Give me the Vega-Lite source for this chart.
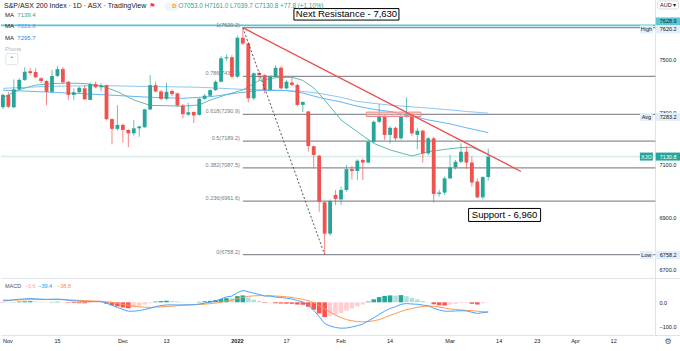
{
"$schema":"https://vega.github.io/schema/vega-lite/v6.json",
"padding":0,
"background":"white",
"spacing":0,
"config":{"view":{"stroke":null},"font":"Liberation Sans","text":{"font":"Liberation Sans"},"concat":{"spacing":0}},
"datasets":{
"days":[{"d":"2021-11-01"},{"d":"2021-11-02"},{"d":"2021-11-03"},{"d":"2021-11-04"},{"d":"2021-11-05"},{"d":"2021-11-08"},{"d":"2021-11-09"},{"d":"2021-11-10"},{"d":"2021-11-11"},{"d":"2021-11-12"},{"d":"2021-11-15"},{"d":"2021-11-16"},{"d":"2021-11-17"},{"d":"2021-11-18"},{"d":"2021-11-19"},{"d":"2021-11-22"},{"d":"2021-11-23"},{"d":"2021-11-24"},{"d":"2021-11-25"},{"d":"2021-11-26"},{"d":"2021-11-29"},{"d":"2021-11-30"},
{"d":"2021-12-01"},{"d":"2021-12-02"},{"d":"2021-12-03"},{"d":"2021-12-06"},{"d":"2021-12-07"},{"d":"2021-12-08"},{"d":"2021-12-09"},{"d":"2021-12-10"},{"d":"2021-12-13"},{"d":"2021-12-14"},{"d":"2021-12-15"},{"d":"2021-12-16"},{"d":"2021-12-17"},{"d":"2021-12-20"},{"d":"2021-12-21"},{"d":"2021-12-22"},{"d":"2021-12-23"},{"d":"2021-12-24"},{"d":"2021-12-29"},{"d":"2021-12-30"},{"d":"2021-12-31"},
{"d":"2022-01-04"},{"d":"2022-01-05"},{"d":"2022-01-06"},{"d":"2022-01-07"},{"d":"2022-01-10"},{"d":"2022-01-11"},{"d":"2022-01-12"},{"d":"2022-01-13"},{"d":"2022-01-14"},{"d":"2022-01-17"},{"d":"2022-01-18"},{"d":"2022-01-19"},{"d":"2022-01-20"},{"d":"2022-01-21"},{"d":"2022-01-24"},{"d":"2022-01-25"},{"d":"2022-01-27"},{"d":"2022-01-28"},{"d":"2022-01-31"},
{"d":"2022-02-01"},{"d":"2022-02-02"},{"d":"2022-02-03"},{"d":"2022-02-04"},{"d":"2022-02-07"},{"d":"2022-02-08"},{"d":"2022-02-09"},{"d":"2022-02-10"},{"d":"2022-02-11"},{"d":"2022-02-14"},{"d":"2022-02-15"},{"d":"2022-02-16"},{"d":"2022-02-17"},{"d":"2022-02-18"},{"d":"2022-02-21"},{"d":"2022-02-22"},{"d":"2022-02-23"},{"d":"2022-02-24"},{"d":"2022-02-25"},{"d":"2022-02-28"},
{"d":"2022-03-01"},{"d":"2022-03-02"},{"d":"2022-03-03"},{"d":"2022-03-04"},{"d":"2022-03-07"},{"d":"2022-03-08"},{"d":"2022-03-09"},{"d":"2022-03-10"},{"d":"2022-03-11"},{"d":"2022-03-14"},{"d":"2022-03-15"},{"d":"2022-03-16"},{"d":"2022-03-17"},{"d":"2022-03-18"},{"d":"2022-03-21"},{"d":"2022-03-22"},{"d":"2022-03-23"},{"d":"2022-03-24"},{"d":"2022-03-25"},{"d":"2022-03-28"},{"d":"2022-03-29"},{"d":"2022-03-30"},{"d":"2022-03-31"},
{"d":"2022-04-01"},{"d":"2022-04-04"},{"d":"2022-04-05"},{"d":"2022-04-06"},{"d":"2022-04-07"},{"d":"2022-04-08"},{"d":"2022-04-11"},{"d":"2022-04-12"},{"d":"2022-04-13"},{"d":"2022-04-14"},{"d":"2022-04-15"},{"d":"2022-04-18"},{"d":"2022-04-19"},{"d":"2022-04-20"},{"d":"2022-04-21"},{"d":"2022-04-22"},{"d":"2022-04-25"},{"d":"2022-04-26"},{"d":"2022-04-27"},{"d":"2022-04-28"}],
"ohlc":[
{"d":"2021-11-01","o":7318,"h":7370,"l":7312,"c":7365},
{"d":"2021-11-02","o":7365,"h":7376,"l":7315,"c":7320},
{"d":"2021-11-03","o":7318,"h":7424,"l":7315,"c":7386},
{"d":"2021-11-04","o":7386,"h":7428,"l":7382,"c":7422},
{"d":"2021-11-05","o":7422,"h":7470,"l":7418,"c":7453},
{"d":"2021-11-08","o":7455,"h":7468,"l":7440,"c":7448},
{"d":"2021-11-09","o":7452,"h":7466,"l":7428,"c":7432},
{"d":"2021-11-10","o":7428,"h":7432,"l":7410,"c":7418},
{"d":"2021-11-11","o":7418,"h":7421,"l":7326,"c":7377},
{"d":"2021-11-12","o":7377,"h":7460,"l":7372,"c":7437},
{"d":"2021-11-15","o":7437,"h":7475,"l":7432,"c":7463},
{"d":"2021-11-16","o":7463,"h":7471,"l":7408,"c":7413},
{"d":"2021-11-17","o":7415,"h":7418,"l":7346,"c":7365},
{"d":"2021-11-18","o":7365,"h":7390,"l":7346,"c":7375},
{"d":"2021-11-19","o":7375,"h":7396,"l":7372,"c":7392},
{"d":"2021-11-22","o":7390,"h":7402,"l":7346,"c":7348},
{"d":"2021-11-23","o":7346,"h":7413,"l":7344,"c":7406},
{"d":"2021-11-24","o":7406,"h":7415,"l":7390,"c":7394},
{"d":"2021-11-25","o":7394,"h":7410,"l":7378,"c":7400},
{"d":"2021-11-26","o":7402,"h":7404,"l":7268,"c":7273},
{"d":"2021-11-29","o":7273,"h":7276,"l":7177,"c":7236},
{"d":"2021-11-30","o":7236,"h":7326,"l":7230,"c":7251},
{"d":"2021-12-01","o":7251,"h":7256,"l":7184,"c":7232},
{"d":"2021-12-02","o":7232,"h":7234,"l":7166,"c":7219},
{"d":"2021-12-03","o":7219,"h":7270,"l":7210,"c":7238},
{"d":"2021-12-06","o":7238,"h":7248,"l":7206,"c":7245},
{"d":"2021-12-07","o":7242,"h":7312,"l":7240,"c":7310},
{"d":"2021-12-08","o":7310,"h":7440,"l":7305,"c":7402},
{"d":"2021-12-09","o":7402,"h":7415,"l":7375,"c":7378},
{"d":"2021-12-10","o":7378,"h":7384,"l":7345,"c":7350},
{"d":"2021-12-13","o":7350,"h":7411,"l":7345,"c":7377},
{"d":"2021-12-14","o":7380,"h":7386,"l":7360,"c":7368},
{"d":"2021-12-15","o":7371,"h":7374,"l":7320,"c":7325},
{"d":"2021-12-16","o":7325,"h":7330,"l":7276,"c":7292},
{"d":"2021-12-17","o":7290,"h":7335,"l":7285,"c":7299},
{"d":"2021-12-20","o":7300,"h":7303,"l":7258,"c":7287},
{"d":"2021-12-21","o":7289,"h":7354,"l":7286,"c":7350},
{"d":"2021-12-22","o":7350,"h":7368,"l":7346,"c":7362},
{"d":"2021-12-23","o":7362,"h":7386,"l":7358,"c":7383},
{"d":"2021-12-24","o":7383,"h":7420,"l":7380,"c":7415},
{"d":"2021-12-29","o":7415,"h":7512,"l":7412,"c":7504},
{"d":"2021-12-30","o":7504,"h":7518,"l":7495,"c":7508},
{"d":"2021-12-31","o":7508,"h":7516,"l":7428,"c":7434},
{"d":"2022-01-04","o":7434,"h":7590,"l":7430,"c":7582},
{"d":"2022-01-05","o":7582,"h":7620.2,"l":7555,"c":7560},
{"d":"2022-01-06","o":7560,"h":7565,"l":7337,"c":7352},
{"d":"2022-01-07","o":7352,"h":7450,"l":7345,"c":7447},
{"d":"2022-01-10","o":7448,"h":7455,"l":7420,"c":7440},
{"d":"2022-01-11","o":7440,"h":7443,"l":7371,"c":7384},
{"d":"2022-01-12","o":7384,"h":7440,"l":7380,"c":7434},
{"d":"2022-01-13","o":7434,"h":7478,"l":7430,"c":7468},
{"d":"2022-01-14","o":7468,"h":7475,"l":7385,"c":7390},
{"d":"2022-01-17","o":7390,"h":7422,"l":7386,"c":7415},
{"d":"2022-01-18","o":7412,"h":7434,"l":7397,"c":7403},
{"d":"2022-01-19","o":7403,"h":7408,"l":7322,"c":7327},
{"d":"2022-01-20","o":7327,"h":7341,"l":7300,"c":7338},
{"d":"2022-01-21","o":7302,"h":7305,"l":7150,"c":7171},
{"d":"2022-01-24","o":7170,"h":7172,"l":7086,"c":7137},
{"d":"2022-01-25","o":7134,"h":7138,"l":6921,"c":6959},
{"d":"2022-01-27","o":6957,"h":6960,"l":6758.2,"c":6838},
{"d":"2022-01-28","o":6838,"h":6968,"l":6830,"c":6962},
{"d":"2022-01-31","o":6985,"h":7004,"l":6947,"c":6970},
{"d":"2022-02-01","o":6968,"h":7016,"l":6947,"c":7004},
{"d":"2022-02-02","o":7004,"h":7099,"l":6998,"c":7083},
{"d":"2022-02-03","o":7083,"h":7095,"l":7044,"c":7076},
{"d":"2022-02-04","o":7076,"h":7120,"l":7042,"c":7115},
{"d":"2022-02-07","o":7118,"h":7124,"l":7042,"c":7108},
{"d":"2022-02-08","o":7108,"h":7192,"l":7105,"c":7187},
{"d":"2022-02-09","o":7187,"h":7268,"l":7182,"c":7263},
{"d":"2022-02-10","o":7263,"h":7330,"l":7258,"c":7285},
{"d":"2022-02-11","o":7285,"h":7290,"l":7194,"c":7213},
{"d":"2022-02-14","o":7213,"h":7246,"l":7180,"c":7240},
{"d":"2022-02-15","o":7240,"h":7245,"l":7191,"c":7200},
{"d":"2022-02-16","o":7200,"h":7290,"l":7195,"c":7282},
{"d":"2022-02-17","o":7282,"h":7356,"l":7278,"c":7295},
{"d":"2022-02-18","o":7289,"h":7298,"l":7210,"c":7219},
{"d":"2022-02-21","o":7213,"h":7240,"l":7158,"c":7229},
{"d":"2022-02-22","o":7229,"h":7233,"l":7108,"c":7143},
{"d":"2022-02-23","o":7143,"h":7205,"l":7135,"c":7200},
{"d":"2022-02-24","o":7200,"h":7205,"l":6956,"c":6989},
{"d":"2022-02-25","o":6989,"h":7005,"l":6978,"c":6994},
{"d":"2022-02-28","o":6994,"h":7055,"l":6985,"c":7048},
{"d":"2022-03-01","o":7048,"h":7137,"l":7045,"c":7090},
{"d":"2022-03-02","o":7090,"h":7118,"l":7082,"c":7111},
{"d":"2022-03-03","o":7111,"h":7181,"l":7105,"c":7149},
{"d":"2022-03-04","o":7149,"h":7170,"l":7085,"c":7108},
{"d":"2022-03-07","o":7108,"h":7132,"l":7016,"c":7032},
{"d":"2022-03-08","o":7036,"h":7048,"l":6972,"c":6976},
{"d":"2022-03-09","o":6976,"h":7056,"l":6968,"c":7053},
{"d":"2022-03-10","o":7053,"h":7161,"l":7039.7,"c":7130.8}],
"ma20":[{"d":"2021-11-01","v":7355},{"d":"2021-11-04","v":7385},{"d":"2021-11-09","v":7402},{"d":"2021-11-12","v":7408},{"d":"2021-11-17","v":7410},{"d":"2021-11-22","v":7408},{"d":"2021-11-25","v":7400},{"d":"2021-11-30","v":7377},{"d":"2021-12-03","v":7346},{"d":"2021-12-08","v":7325},{"d":"2021-12-13","v":7324},{"d":"2021-12-16","v":7322},{"d":"2021-12-21","v":7327},{"d":"2021-12-23","v":7345},{"d":"2021-12-30","v":7366},{"d":"2022-01-05","v":7384},{"d":"2022-01-10","v":7420},{"d":"2022-01-13","v":7430},{"d":"2022-01-18","v":7432},{"d":"2022-01-20","v":7420},{"d":"2022-01-24","v":7392},{"d":"2022-01-27","v":7345},{"d":"2022-02-01","v":7270},{"d":"2022-02-04","v":7225},{"d":"2022-02-09","v":7181},{"d":"2022-02-14","v":7156},{"d":"2022-02-18","v":7133},{"d":"2022-02-23","v":7149},{"d":"2022-02-28","v":7158},{"d":"2022-03-03","v":7165},{"d":"2022-03-07","v":7166},{"d":"2022-03-10","v":7139.4}],
"ma50":[{"d":"2021-11-01","v":7383},{"d":"2021-11-12","v":7375},{"d":"2021-11-25","v":7366},{"d":"2021-12-08","v":7356},{"d":"2021-12-16","v":7352},{"d":"2021-12-23","v":7358},{"d":"2022-01-04","v":7372},{"d":"2022-01-10","v":7382},{"d":"2022-01-17","v":7382},{"d":"2022-01-20","v":7372},{"d":"2022-01-25","v":7355},{"d":"2022-02-01","v":7338},{"d":"2022-02-04","v":7322},{"d":"2022-02-09","v":7310},{"d":"2022-02-14","v":7302},{"d":"2022-02-18","v":7285},{"d":"2022-02-23","v":7270},{"d":"2022-03-01","v":7255},{"d":"2022-03-04","v":7240},{"d":"2022-03-10","v":7221.8}],
"ma100":[{"d":"2021-11-01","v":7390},{"d":"2021-11-12","v":7398},{"d":"2021-11-25","v":7400},{"d":"2021-12-08","v":7397},{"d":"2021-12-21","v":7394},{"d":"2022-01-05","v":7386},{"d":"2022-01-13","v":7383},{"d":"2022-01-20","v":7378},{"d":"2022-01-25","v":7371},{"d":"2022-02-01","v":7356},{"d":"2022-02-04","v":7340},{"d":"2022-02-14","v":7326},{"d":"2022-02-21","v":7318},{"d":"2022-02-28","v":7310},{"d":"2022-03-04","v":7302},{"d":"2022-03-10","v":7295.7}],
"macd":[
{"d":"2021-11-01","h":-3,"s":9,"m":6},{"d":"2021-11-02","h":-2,"s":9,"m":7},{"d":"2021-11-03","h":1,"s":9,"m":10},{"d":"2021-11-04","h":3,"s":9.5,"m":12.5},{"d":"2021-11-05","h":4,"s":10,"m":14},{"d":"2021-11-08","h":4.5,"s":10.5,"m":15},{"d":"2021-11-09","h":3,"s":11,"m":14},{"d":"2021-11-10","h":2,"s":11,"m":13},{"d":"2021-11-11","h":1,"s":11,"m":12},{"d":"2021-11-12","h":1.5,"s":11,"m":12.5},{"d":"2021-11-15","h":2,"s":11,"m":13},{"d":"2021-11-16","h":1,"s":10.5,"m":11.5},{"d":"2021-11-17","h":-2,"s":10,"m":8},{"d":"2021-11-18","h":-3,"s":9,"m":6},{"d":"2021-11-19","h":-3.5,"s":8,"m":4.5},{"d":"2021-11-22","h":-4,"s":7,"m":3},{"d":"2021-11-23","h":-3,"s":6,"m":3},{"d":"2021-11-24","h":-2,"s":5,"m":3},{"d":"2021-11-25","h":-1.5,"s":4,"m":2.5},{"d":"2021-11-26","h":-6,"s":2.5,"m":-3.5},{"d":"2021-11-29","h":-12,"s":0,"m":-12},{"d":"2021-11-30","h":-17,"s":-4,"m":-21},
{"d":"2021-12-01","h":-21,"s":-8,"m":-29},{"d":"2021-12-02","h":-24,"s":-12,"m":-36},{"d":"2021-12-03","h":-20,"s":-16,"m":-36},{"d":"2021-12-06","h":-15,"s":-18.5,"m":-33.5},{"d":"2021-12-07","h":-9,"s":-20,"m":-29},{"d":"2021-12-08","h":-4,"s":-20.5,"m":-24.5},{"d":"2021-12-09","h":3,"s":-20,"m":-17},{"d":"2021-12-10","h":5,"s":-18.5,"m":-13.5},{"d":"2021-12-13","h":6.5,"s":-17,"m":-10.5},{"d":"2021-12-14","h":5,"s":-15.5,"m":-10.5},{"d":"2021-12-15","h":3.5,"s":-14,"m":-10.5},{"d":"2021-12-16","h":2,"s":-12.5,"m":-10.5},{"d":"2021-12-17","h":1,"s":-11,"m":-10},{"d":"2021-12-20","h":0.5,"s":-10,"m":-9.5},{"d":"2021-12-21","h":2,"s":-9,"m":-7},{"d":"2021-12-22","h":4,"s":-7.5,"m":-3.5},{"d":"2021-12-23","h":6,"s":-5.5,"m":0.5},{"d":"2021-12-24","h":9,"s":-3,"m":6},{"d":"2021-12-29","h":13,"s":0.5,"m":13.5},{"d":"2021-12-30","h":17,"s":5,"m":22},{"d":"2021-12-31","h":16,"s":9,"m":25},
{"d":"2022-01-04","h":25,"s":14,"m":39},{"d":"2022-01-05","h":28,"s":20,"m":48},{"d":"2022-01-06","h":19,"s":24,"m":43},{"d":"2022-01-07","h":11,"s":26,"m":37},{"d":"2022-01-10","h":5,"s":27,"m":32},{"d":"2022-01-11","h":-2,"s":27,"m":25},{"d":"2022-01-12","h":-1,"s":26.5,"m":25.5},{"d":"2022-01-13","h":-4,"s":25.5,"m":21.5},{"d":"2022-01-14","h":-5,"s":24,"m":19},{"d":"2022-01-17","h":-5.5,"s":22,"m":16.5},{"d":"2022-01-18","h":-6,"s":19.5,"m":13.5},{"d":"2022-01-19","h":-9,"s":16,"m":7},{"d":"2022-01-20","h":-10,"s":12,"m":2},{"d":"2022-01-21","h":-18,"s":6,"m":-12},{"d":"2022-01-24","h":-30,"s":-2,"m":-32},{"d":"2022-01-25","h":-45,"s":-13,"m":-58},{"d":"2022-01-27","h":-60,"s":-26,"m":-86},{"d":"2022-01-28","h":-56,"s":-40,"m":-96},{"d":"2022-01-31","h":-50,"s":-52,"m":-102},
{"d":"2022-02-01","h":-43,"s":-62,"m":-105},{"d":"2022-02-02","h":-34,"s":-70,"m":-104},{"d":"2022-02-03","h":-25,"s":-75,"m":-100},{"d":"2022-02-04","h":-17,"s":-78,"m":-95},{"d":"2022-02-07","h":-9,"s":-79,"m":-88},{"d":"2022-02-08","h":3,"s":-78,"m":-75},{"d":"2022-02-09","h":12,"s":-75,"m":-63},{"d":"2022-02-10","h":21,"s":-70,"m":-49},{"d":"2022-02-11","h":26,"s":-62,"m":-36},{"d":"2022-02-14","h":28,"s":-53,"m":-25},{"d":"2022-02-15","h":27,"s":-45,"m":-18},{"d":"2022-02-16","h":29,"s":-37,"m":-8},{"d":"2022-02-17","h":25,"s":-30,"m":-5},{"d":"2022-02-18","h":18,"s":-25,"m":-7},{"d":"2022-02-21","h":12,"s":-20,"m":-8},{"d":"2022-02-22","h":6,"s":-17,"m":-11},{"d":"2022-02-23","h":1,"s":-15,"m":-14},{"d":"2022-02-24","h":-8,"s":-16,"m":-24},{"d":"2022-02-25","h":-12,"s":-19,"m":-31},{"d":"2022-02-28","h":-13,"s":-23,"m":-36},
{"d":"2022-03-01","h":-9,"s":-27,"m":-36},{"d":"2022-03-02","h":-6,"s":-29,"m":-35},{"d":"2022-03-03","h":-3,"s":-31,"m":-34},{"d":"2022-03-04","h":-2,"s":-33,"m":-35},{"d":"2022-03-07","h":-6,"s":-34,"m":-40},{"d":"2022-03-08","h":-9,"s":-36,"m":-45},{"d":"2022-03-09","h":-4,"s":-38,"m":-42},{"d":"2022-03-10","h":-0.6,"s":-38.8,"m":-39.4}],
"fib":[{"p":7620.2,"t":"1(7620.2)","a":"2022-01-05","b":"2022-04-22"},{"p":7435.7,"t":"0.786(7435.7)","a":"2022-01-05","b":"2022-04-22"},{"p":7290.9,"t":"0.618(7290.9)","a":"2022-01-05","b":"2022-04-22"},{"p":7189.2,"t":"0.5(7189.2)","a":"2022-01-05","b":"2022-04-22"},{"p":7087.5,"t":"0.382(7087.5)","a":"2022-01-05","b":"2022-04-22"},{"p":6961.6,"t":"0.236(6961.6)","a":"2022-01-05","b":"2022-04-22"},{"p":6758.2,"t":"0(6758.2)","a":"2022-01-05","b":"2022-04-22"}],
"tags":[{"d":"2022-04-26","p":7644,"t":"7628.9","k":"cyan"},{"d":"2022-04-26","p":7614,"t":"7620.2","k":"light"},{"d":"2022-04-20","p":7614,"t":"High","k":"light"},{"d":"2022-04-26","p":7281,"t":"7283.2","k":"light"},{"d":"2022-04-20","p":7281,"t":"Avg","k":"light"},{"d":"2022-04-26","p":7130.8,"t":"7130.8","k":"teal"},{"d":"2022-04-20","p":7130.8,"t":"XJO","k":"teal"},{"d":"2022-04-26","p":6757,"t":"6758.2","k":"light"},{"d":"2022-04-20","p":6757,"t":"Low","k":"light"}]
},
"vconcat":[
{"width":680,"height":278,
"layer":[
{"data":{"name":"days"},"mark":{"type":"rule","opacity":0},"encoding":{"x":{"field":"d","type":"ordinal","scale":{"type":"band","paddingInner":0.3,"paddingOuter":0},"axis":{"title":null,"labels":false,"ticks":false,"domain":true,"domainColor":"#e0e3eb","domainWidth":1,"grid":false}}}},
{"data":{"values":[{"p":7628.9,"a":"2021-11-01","b":"2022-04-22"}]},"mark":{"type":"rule","color":"#5bc4d2","strokeWidth":1.6},"encoding":{"x":{"field":"a","type":"ordinal","scale":{"type":"band","paddingInner":0.3,"paddingOuter":0},"bandPosition":0},"x2":{"field":"b","bandPosition":0},"y":{"field":"p","type":"quantitative","scale":{"domain":[6669.6,7725.4],"nice":false,"zero":false}}}},
{"data":{"values":[{"p":7130.8,"a":"2021-11-01","b":"2022-04-22"}]},"mark":{"type":"rule","color":"#d3ece8","strokeWidth":1.5},"encoding":{"x":{"field":"a","type":"ordinal","scale":{"type":"band","paddingInner":0.3,"paddingOuter":0},"bandPosition":0},"x2":{"field":"b","bandPosition":0},"y":{"field":"p","type":"quantitative","scale":{"domain":[6669.6,7725.4],"nice":false,"zero":false}}}},
{"data":{"name":"fib"},"mark":{"type":"rule","color":"#8b8e96","strokeWidth":1.2},"encoding":{"x":{"field":"a","type":"ordinal","scale":{"type":"band","paddingInner":0.3,"paddingOuter":0},"bandPosition":0.5},"x2":{"field":"b","bandPosition":0},"y":{"field":"p","type":"quantitative","scale":{"domain":[6669.6,7725.4],"nice":false,"zero":false},"axis":{"orient":"right","offset":-26,"values":[6700,6800,6900,7000,7100,7200,7300,7400,7500,7600],"format":".1f","labelFontSize":5.5,"labelColor":"#131722","ticks":false,"domain":true,"domainColor":"#e0e3eb","labelPadding":4,"grid":false,"title":null,"labelAlign":"left","labelBaseline":"middle"}}}},
{"data":{"name":"fib"},"mark":{"type":"text","color":"#787b86","fontSize":5.5,"align":"right","baseline":"bottom","dx":-3},"encoding":{"x":{"field":"a","type":"ordinal","scale":{"type":"band","paddingInner":0.3,"paddingOuter":0},"bandPosition":0.5},"y":{"field":"p","type":"quantitative","scale":{"domain":[6669.6,7725.4],"nice":false,"zero":false}},"text":{"field":"t"}}},
{"data":{"name":"ma100"},"mark":{"type":"line","color":"#8ec6f3","strokeWidth":1},"encoding":{"x":{"field":"d","type":"ordinal","scale":{"type":"band","paddingInner":0.3,"paddingOuter":0}},"y":{"field":"v","type":"quantitative","scale":{"domain":[6669.6,7725.4],"nice":false,"zero":false}}}},
{"data":{"name":"ma50"},"mark":{"type":"line","color":"#64b5f6","strokeWidth":1},"encoding":{"x":{"field":"d","type":"ordinal","scale":{"type":"band","paddingInner":0.3,"paddingOuter":0}},"y":{"field":"v","type":"quantitative","scale":{"domain":[6669.6,7725.4],"nice":false,"zero":false}}}},
{"data":{"name":"ma20"},"mark":{"type":"line","color":"#5dbdaf","strokeWidth":1},"encoding":{"x":{"field":"d","type":"ordinal","scale":{"type":"band","paddingInner":0.3,"paddingOuter":0}},"y":{"field":"v","type":"quantitative","scale":{"domain":[6669.6,7725.4],"nice":false,"zero":false}}}},
{"data":{"name":"ohlc"},"mark":{"type":"rule","strokeWidth":1,"opacity":0.7},"encoding":{"x":{"field":"d","type":"ordinal","scale":{"type":"band","paddingInner":0.3,"paddingOuter":0}},"y":{"field":"l","type":"quantitative","scale":{"domain":[6669.6,7725.4],"nice":false,"zero":false}},"y2":{"field":"h"},"color":{"condition":{"test":"datum.c >= datum.o","value":"#26a69a"},"value":"#ef5350"}}},
{"data":{"name":"ohlc"},"mark":{"type":"bar"},"encoding":{"x":{"field":"d","type":"ordinal","scale":{"type":"band","paddingInner":0.3,"paddingOuter":0}},"y":{"field":"o","type":"quantitative","scale":{"domain":[6669.6,7725.4],"nice":false,"zero":false}},"y2":{"field":"c"},"color":{"condition":{"test":"datum.c >= datum.o","value":"#26a69a"},"value":"#ef5350"}}},
{"data":{"values":[{"a":"2022-02-08","b":"2022-02-22","p":7299.6,"q":7282.9}]},"mark":{"type":"rect","fill":"#f6b3b3","fillOpacity":0.45,"stroke":"#f08a8a","strokeWidth":1},"encoding":{"x":{"field":"a","type":"ordinal","scale":{"type":"band","paddingInner":0.3,"paddingOuter":0},"bandPosition":0},"x2":{"field":"b","bandPosition":0},"y":{"field":"p","type":"quantitative","scale":{"domain":[6669.6,7725.4],"nice":false,"zero":false}},"y2":{"field":"q"}}},
{"data":{"values":[{"d":"2022-01-05","p":7620.2},{"d":"2022-01-27","p":6758.2}]},"mark":{"type":"line","color":"#50535e","strokeWidth":1,"strokeDash":[2,2]},"encoding":{"x":{"field":"d","type":"ordinal","scale":{"type":"band","paddingInner":0.3,"paddingOuter":0}},"y":{"field":"p","type":"quantitative","scale":{"domain":[6669.6,7725.4],"nice":false,"zero":false}}}},
{"data":{"values":[{"d":"2022-01-05","p":7620.2},{"d":"2022-03-18","p":7074}]},"mark":{"type":"line","color":"#ef4b4b","strokeWidth":1.3},"encoding":{"x":{"field":"d","type":"ordinal","scale":{"type":"band","paddingInner":0.3,"paddingOuter":0}},"y":{"field":"p","type":"quantitative","scale":{"domain":[6669.6,7725.4],"nice":false,"zero":false}}}},
{"data":{"values":[{"d":"2022-02-02","p":7671}]},"mark":{"type":"tick","orient":"horizontal","size":105,"thickness":11.5,"fill":"white","stroke":"#000000","strokeWidth":1,"opacity":1},"encoding":{"x":{"field":"d","type":"ordinal","scale":{"type":"band","paddingInner":0.3,"paddingOuter":0}},"y":{"field":"p","type":"quantitative","scale":{"domain":[6669.6,7725.4],"nice":false,"zero":false}}}},
{"data":{"values":[{"d":"2022-03-15","p":6909}]},"mark":{"type":"tick","orient":"horizontal","size":72,"thickness":13,"fill":"white","stroke":"#000000","strokeWidth":1,"opacity":1},"encoding":{"x":{"field":"d","type":"ordinal","scale":{"type":"band","paddingInner":0.3,"paddingOuter":0}},"y":{"field":"p","type":"quantitative","scale":{"domain":[6669.6,7725.4],"nice":false,"zero":false}}}},
{"data":{"values":[{"d":"2022-02-02","p":7671,"t":"Next Resistance - 7,630"},{"d":"2022-03-15","p":6909,"t":"Support - 6,960"}]},"mark":{"type":"text","color":"#000000","fontSize":9.5,"align":"center","baseline":"middle"},"encoding":{"x":{"field":"d","type":"ordinal","scale":{"type":"band","paddingInner":0.3,"paddingOuter":0}},"y":{"field":"p","type":"quantitative","scale":{"domain":[6669.6,7725.4],"nice":false,"zero":false}},"text":{"field":"t"}}},
{"data":{"name":"tags"},"mark":{"type":"tick","orient":"horizontal","thickness":8,"opacity":1},"encoding":{"x":{"field":"d","type":"ordinal","scale":{"type":"band","paddingInner":0.3,"paddingOuter":0}},"y":{"field":"p","type":"quantitative","scale":{"domain":[6669.6,7725.4],"nice":false,"zero":false}},"size":{"condition":{"test":"datum.d == '2022-04-26'","value":25},"value":13},"color":{"field":"k","type":"nominal","scale":{"domain":["light","cyan","teal"],"range":["#e3eefb","#5cc6d4","#26a69a"]},"legend":null}}},
{"data":{"name":"tags"},"mark":{"type":"text","fontSize":5.5,"align":"center","baseline":"middle"},"encoding":{"x":{"field":"d","type":"ordinal","scale":{"type":"band","paddingInner":0.3,"paddingOuter":0}},"y":{"field":"p","type":"quantitative","scale":{"domain":[6669.6,7725.4],"nice":false,"zero":false}},"text":{"field":"t"},"color":{"condition":{"test":"datum.k == 'teal'","value":"#ffffff"},"value":"#131722"}}},
{"data":{"values":[{"d":"2022-04-26","p":7706.5}]},"mark":{"type":"tick","orient":"horizontal","size":21,"thickness":8,"fill":"white","stroke":"#d1d4dc","strokeWidth":0.8,"opacity":1,"cornerRadius":2},"encoding":{"x":{"field":"d","type":"ordinal","scale":{"type":"band","paddingInner":0.3,"paddingOuter":0}},"y":{"field":"p","type":"quantitative","scale":{"domain":[6669.6,7725.4],"nice":false,"zero":false}}}},
{"data":{"values":[{"d":"2022-04-26","p":7706.5,"t":"AUD ▾"}]},"mark":{"type":"text","fontSize":5.5,"color":"#131722","align":"center","baseline":"middle"},"encoding":{"x":{"field":"d","type":"ordinal","scale":{"type":"band","paddingInner":0.3,"paddingOuter":0}},"y":{"field":"p","type":"quantitative","scale":{"domain":[6669.6,7725.4],"nice":false,"zero":false}},"text":{"field":"t"}}},
{"data":{"values":[{"d":"2021-11-01","p":7700.8,"t":"S&P/ASX 200 Index · 1D · ASX · TradingView"}]},"mark":{"type":"text","fontSize":7,"color":"#131722","align":"left","baseline":"middle","dx":3},"encoding":{"x":{"field":"d","type":"ordinal","scale":{"type":"band","paddingInner":0.3,"paddingOuter":0},"bandPosition":0},"y":{"field":"p","type":"quantitative","scale":{"domain":[6669.6,7725.4],"nice":false,"zero":false}},"text":{"field":"t"}}},
{"data":{"values":[{"d":"2021-12-08","p":7700.8,"t":"⚑"}]},"mark":{"type":"text","fontSize":7,"font":"DejaVu Sans","color":"#f23645","align":"left","baseline":"middle","dx":1},"encoding":{"x":{"field":"d","type":"ordinal","scale":{"type":"band","paddingInner":0.3,"paddingOuter":0},"bandPosition":0},"y":{"field":"p","type":"quantitative","scale":{"domain":[6669.6,7725.4],"nice":false,"zero":false}},"text":{"field":"t"}}},
{"data":{"values":[{"d":"2021-12-14","p":7700.8}]},"mark":{"type":"tick","orient":"horizontal","size":15,"thickness":8,"color":"#f0f3fa","opacity":1,"cornerRadius":4},"encoding":{"x":{"field":"d","type":"ordinal","scale":{"type":"band","paddingInner":0.3,"paddingOuter":0}},"y":{"field":"p","type":"quantitative","scale":{"domain":[6669.6,7725.4],"nice":false,"zero":false}}}},
{"data":{"values":[{"d":"2021-12-14","p":7700.8,"t":"D"}]},"mark":{"type":"text","fontSize":6,"fontWeight":"bold","color":"#ff9800","align":"center","baseline":"middle","dx":2.5},"encoding":{"x":{"field":"d","type":"ordinal","scale":{"type":"band","paddingInner":0.3,"paddingOuter":0}},"y":{"field":"p","type":"quantitative","scale":{"domain":[6669.6,7725.4],"nice":false,"zero":false}},"text":{"field":"t"}}},
{"data":{"values":[{"d":"2021-12-15","p":7700.8,"t":"O7053.0 H7161.0 L7039.7 C7130.8 +77.8 (+1.10%)"}]},"mark":{"type":"text","fontSize":6.3,"color":"#26a69a","align":"left","baseline":"middle","dx":3},"encoding":{"x":{"field":"d","type":"ordinal","scale":{"type":"band","paddingInner":0.3,"paddingOuter":0},"bandPosition":0},"y":{"field":"p","type":"quantitative","scale":{"domain":[6669.6,7725.4],"nice":false,"zero":false}},"text":{"field":"t"}}},
{"data":{"values":[{"d":"2021-11-01","p":7668,"t":"MA"},{"d":"2021-11-01","p":7625,"t":"MA"},{"d":"2021-11-01","p":7581,"t":"MA"}]},"mark":{"type":"text","fontSize":6,"color":"#131722","align":"left","baseline":"middle","dx":4},"encoding":{"x":{"field":"d","type":"ordinal","scale":{"type":"band","paddingInner":0.3,"paddingOuter":0},"bandPosition":0},"y":{"field":"p","type":"quantitative","scale":{"domain":[6669.6,7725.4],"nice":false,"zero":false}},"text":{"field":"t"}}},
{"data":{"values":[{"d":"2021-11-04","p":7668,"t":"7139.4"},{"d":"2021-11-04","p":7625,"t":"7221.8"},{"d":"2021-11-04","p":7581,"t":"7295.7"}]},"mark":{"type":"text","fontSize":6,"align":"left","baseline":"middle"},"encoding":{"x":{"field":"d","type":"ordinal","scale":{"type":"band","paddingInner":0.3,"paddingOuter":0},"bandPosition":0},"y":{"field":"p","type":"quantitative","scale":{"domain":[6669.6,7725.4],"nice":false,"zero":false}},"text":{"field":"t"},"color":{"condition":[{"test":"datum.t == '7139.4'","value":"#26a69a"},{"test":"datum.t == '7221.8'","value":"#42a5f5"}],"value":"#2f7fe6"}}},
{"data":{"values":[{"d":"2021-11-01","p":7541,"t":"Pivots"}]},"mark":{"type":"text","fontSize":6,"color":"#b2b5be","align":"left","baseline":"middle","dx":4},"encoding":{"x":{"field":"d","type":"ordinal","scale":{"type":"band","paddingInner":0.3,"paddingOuter":0},"bandPosition":0},"y":{"field":"p","type":"quantitative","scale":{"domain":[6669.6,7725.4],"nice":false,"zero":false}},"text":{"field":"t"}}},
{"data":{"values":[{"d":"2021-11-03","p":7501}]},"mark":{"type":"tick","orient":"horizontal","size":12,"thickness":11,"fill":"white","stroke":"#e0e3eb","strokeWidth":1,"opacity":1,"cornerRadius":2,"xOffset":-2},"encoding":{"x":{"field":"d","type":"ordinal","scale":{"type":"band","paddingInner":0.3,"paddingOuter":0}},"y":{"field":"p","type":"quantitative","scale":{"domain":[6669.6,7725.4],"nice":false,"zero":false}}}},
{"data":{"values":[{"d":"2021-11-03","p":7501,"t":"˄"}]},"mark":{"type":"text","fontSize":7,"font":"DejaVu Sans","color":"#131722","align":"center","baseline":"middle","dx":-2,"dy":1},"encoding":{"x":{"field":"d","type":"ordinal","scale":{"type":"band","paddingInner":0.3,"paddingOuter":0}},"y":{"field":"p","type":"quantitative","scale":{"domain":[6669.6,7725.4],"nice":false,"zero":false}},"text":{"field":"t"}}}
]},
{"width":680,"height":57,
"layer":[
{"data":{"name":"days"},"mark":{"type":"rule","opacity":0},"encoding":{"x":{"field":"d","type":"ordinal","scale":{"type":"band","paddingInner":0.3,"paddingOuter":0},"axis":{"title":null,"values":["2021-11-01","2021-11-15","2021-12-01","2021-12-13","2022-01-04","2022-01-17","2022-02-01","2022-02-14","2022-03-01","2022-03-14","2022-03-23","2022-04-01","2022-04-12"],"labelExpr":"['Nov','15','Dec','13','2022','17','Feb','14','Mar','14','23','Apr','12'][indexof(['2021-11-01','2021-11-15','2021-12-01','2021-12-13','2022-01-04','2022-01-17','2022-02-01','2022-02-14','2022-03-01','2022-03-14','2022-03-23','2022-04-01','2022-04-12'], datum.value)]","labelFontSize":5.5,"labelColor":"#131722","ticks":false,"domain":true,"domainColor":"#e0e3eb","labelPadding":3.5,"labelAngle":0,"labelFlush":5,"labelOverlap":false,"grid":false,"labelFontWeight":{"condition":{"test":"datum.value == '2022-01-04'","value":"bold"},"value":"normal"}}}}},
{"data":{"name":"macd"},"transform":[{"window":[{"op":"lag","field":"h","as":"prev"}],"sort":[{"field":"d","order":"ascending"}]}],"mark":{"type":"bar","width":{"band":1.2}},"encoding":{"x":{"field":"d","type":"ordinal","scale":{"type":"band","paddingInner":0.3,"paddingOuter":0}},"y":{"field":"h","type":"quantitative","scale":{"domain":[-132.4,98.4],"nice":false,"zero":false},"axis":{"orient":"right","offset":-26,"values":[0,-100],"format":".1f","labelFontSize":5.5,"labelColor":"#131722","ticks":false,"domain":true,"domainColor":"#e0e3eb","labelPadding":4,"grid":false,"title":null,"labelAlign":"left","labelBaseline":"middle"}},"y2":{"datum":0},"color":{"condition":[{"test":"datum.h >= 0 && (datum.prev == null || datum.h >= datum.prev)","value":"#26a69a"},{"test":"datum.h >= 0","value":"#b2dfdb"},{"test":"datum.prev == null || datum.h > datum.prev","value":"#ffcdd2"}],"value":"#ff5252"}}},
{"data":{"name":"macd"},"mark":{"type":"line","color":"#ff9a4d","strokeWidth":1},"encoding":{"x":{"field":"d","type":"ordinal","scale":{"type":"band","paddingInner":0.3,"paddingOuter":0}},"y":{"field":"s","type":"quantitative","scale":{"domain":[-132.4,98.4],"nice":false,"zero":false}}}},
{"data":{"name":"macd"},"mark":{"type":"line","color":"#4da3f7","strokeWidth":1},"encoding":{"x":{"field":"d","type":"ordinal","scale":{"type":"band","paddingInner":0.3,"paddingOuter":0}},"y":{"field":"m","type":"quantitative","scale":{"domain":[-132.4,98.4],"nice":false,"zero":false}}}},
{"data":{"values":[{"d":"2021-11-01","v":66,"t":"MACD"}]},"mark":{"type":"text","fontSize":5.5,"color":"#50535e","align":"left","baseline":"middle","dx":4},"encoding":{"x":{"field":"d","type":"ordinal","scale":{"type":"band","paddingInner":0.3,"paddingOuter":0},"bandPosition":0},"y":{"field":"v","type":"quantitative","scale":{"domain":[-132.4,98.4],"nice":false,"zero":false}},"text":{"field":"t"}}},
{"data":{"values":[{"d":"2021-11-05","v":66,"t":"−0.6"}]},"mark":{"type":"text","fontSize":5.5,"color":"#f4a3b0","align":"left","baseline":"middle","dx":2},"encoding":{"x":{"field":"d","type":"ordinal","scale":{"type":"band","paddingInner":0.3,"paddingOuter":0},"bandPosition":0},"y":{"field":"v","type":"quantitative","scale":{"domain":[-132.4,98.4],"nice":false,"zero":false}},"text":{"field":"t"}}},
{"data":{"values":[{"d":"2021-11-09","v":66,"t":"−39.4"}]},"mark":{"type":"text","fontSize":5.5,"color":"#2196f3","align":"left","baseline":"middle","dx":4.5},"encoding":{"x":{"field":"d","type":"ordinal","scale":{"type":"band","paddingInner":0.3,"paddingOuter":0},"bandPosition":0},"y":{"field":"v","type":"quantitative","scale":{"domain":[-132.4,98.4],"nice":false,"zero":false}},"text":{"field":"t"}}},
{"data":{"values":[{"d":"2021-11-15","v":66,"t":"−38.8"}]},"mark":{"type":"text","fontSize":5.5,"color":"#ff8f3f","align":"left","baseline":"middle","dx":1.5},"encoding":{"x":{"field":"d","type":"ordinal","scale":{"type":"band","paddingInner":0.3,"paddingOuter":0},"bandPosition":0},"y":{"field":"v","type":"quantitative","scale":{"domain":[-132.4,98.4],"nice":false,"zero":false}},"text":{"field":"t"}}},
{"data":{"values":[{"d":"2022-04-26","v":-160,"t":"⚙"}]},"mark":{"type":"text","fontSize":8,"font":"DejaVu Sans","color":"#50535e","align":"center","baseline":"middle"},"encoding":{"x":{"field":"d","type":"ordinal","scale":{"type":"band","paddingInner":0.3,"paddingOuter":0}},"y":{"field":"v","type":"quantitative","scale":{"domain":[-132.4,98.4],"nice":false,"zero":false}},"text":{"field":"t"}}}
]}
]
}
